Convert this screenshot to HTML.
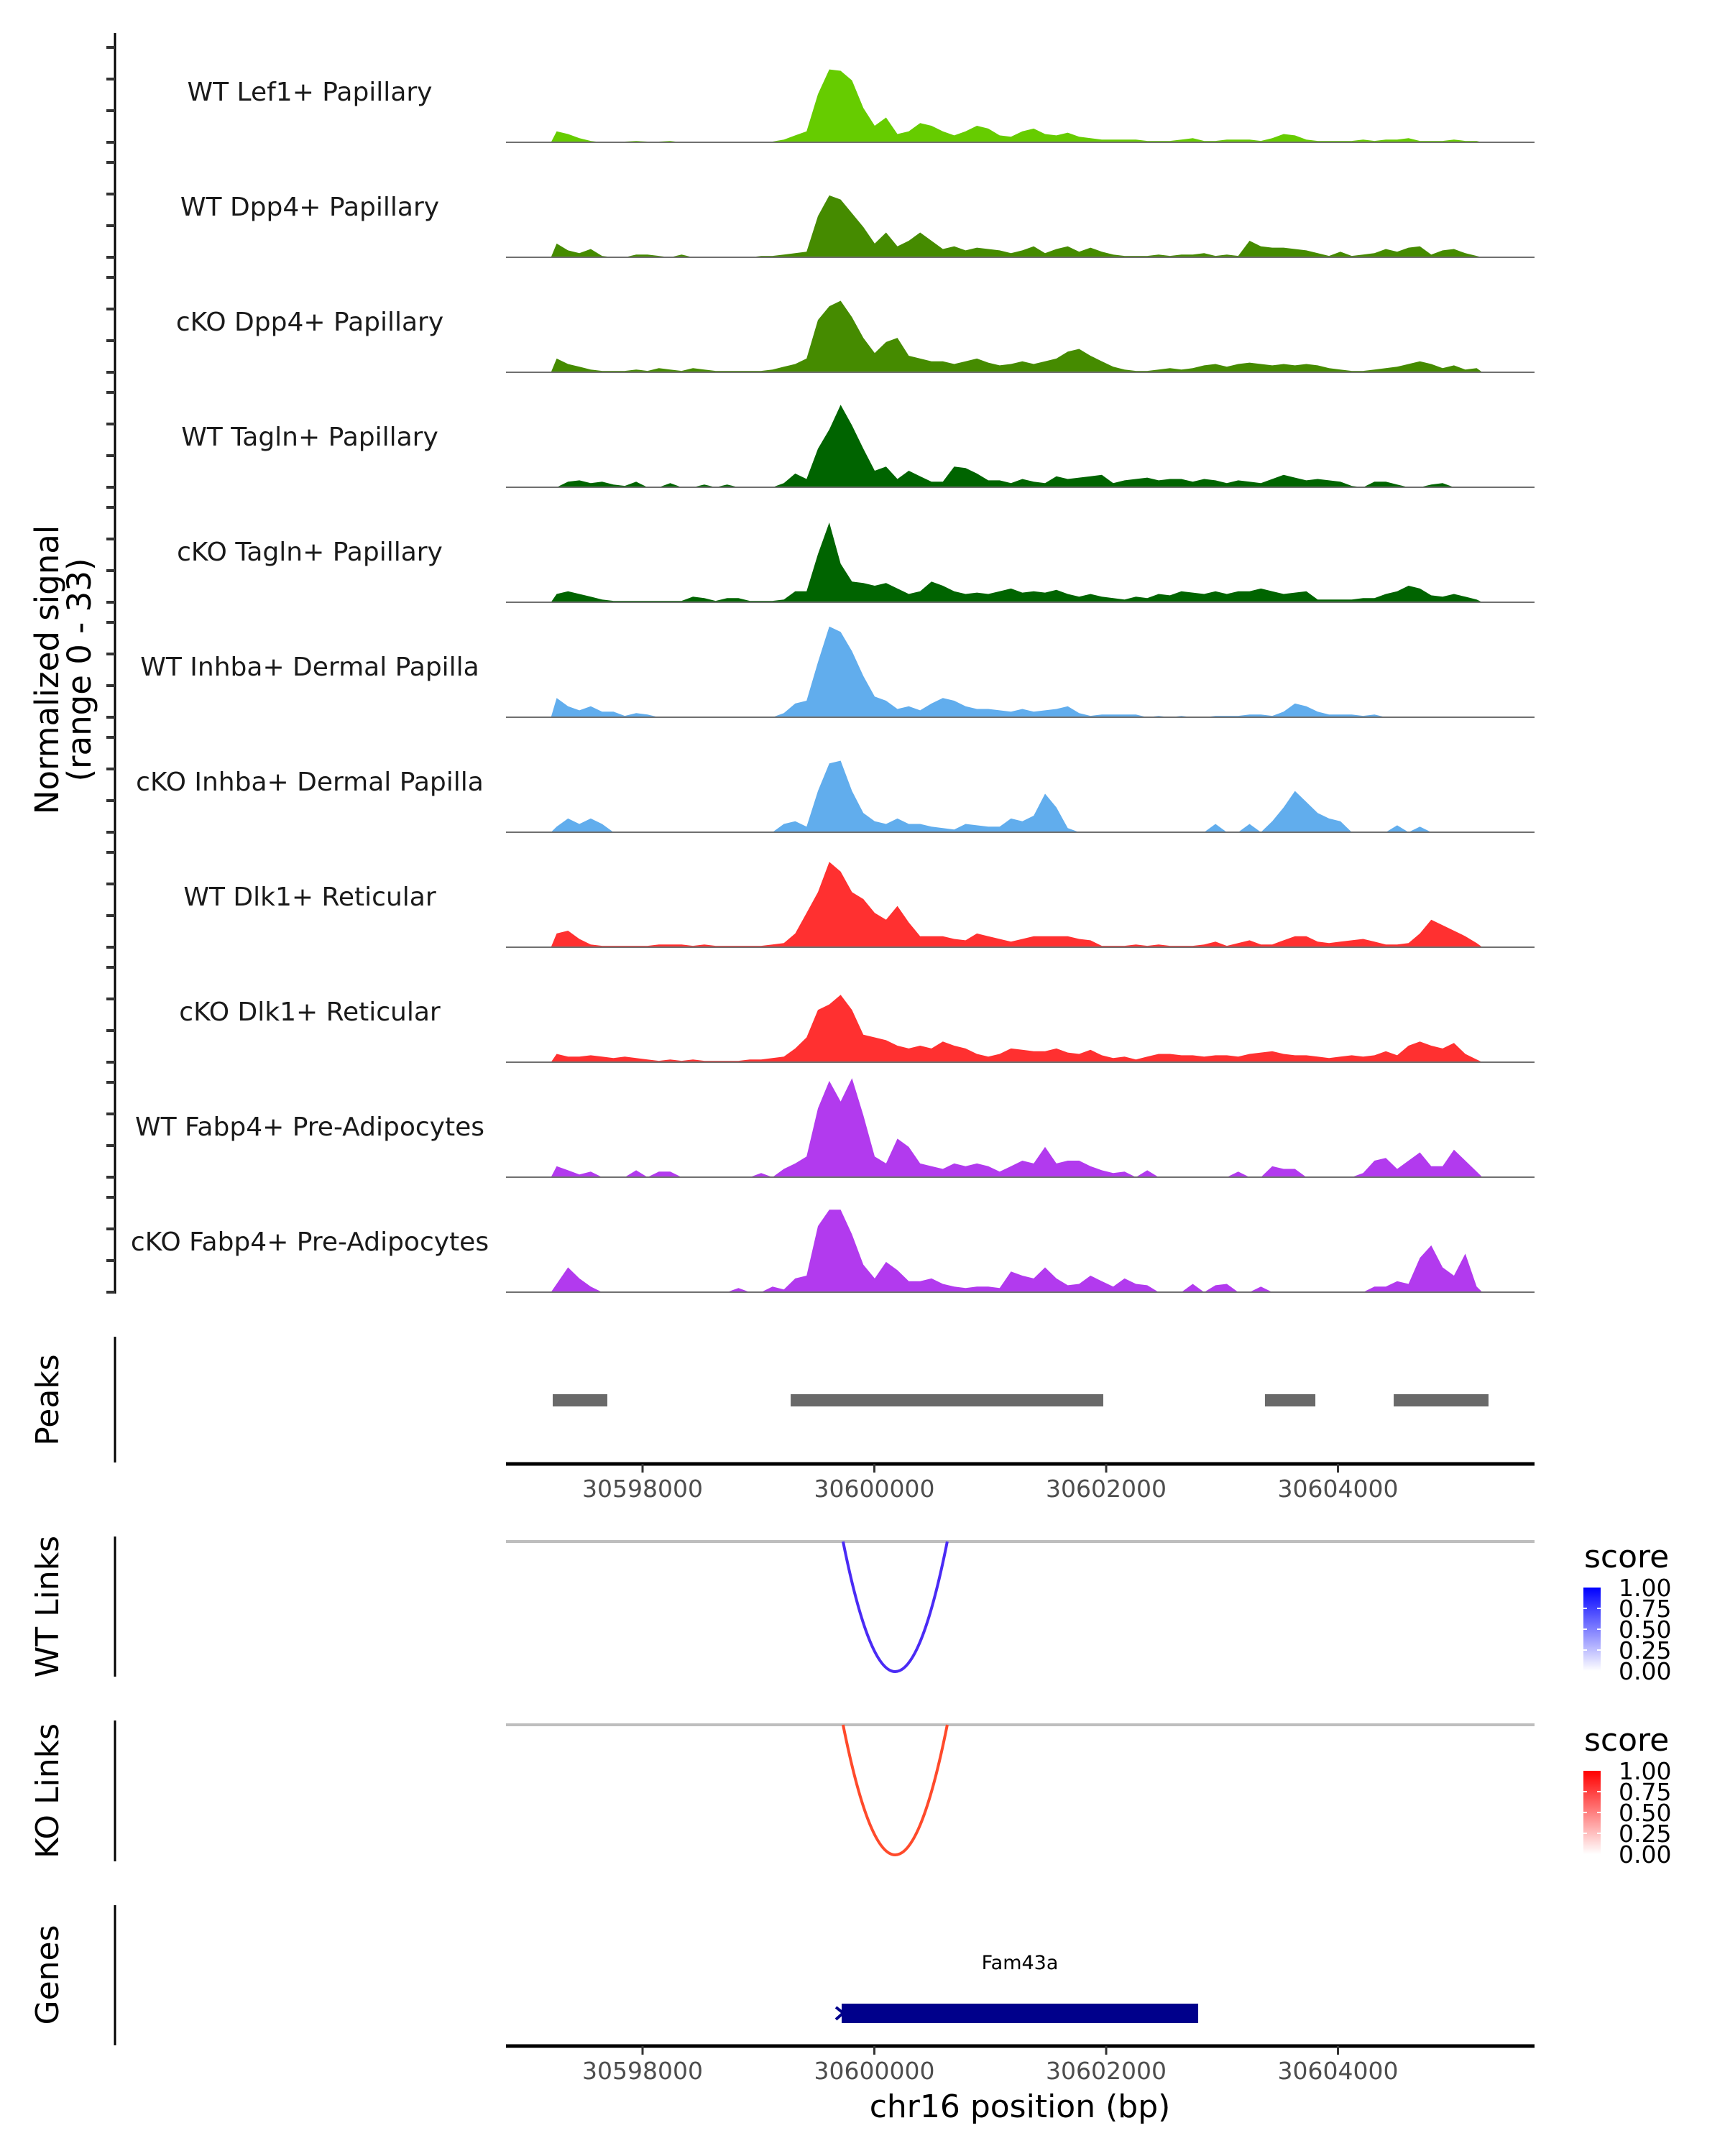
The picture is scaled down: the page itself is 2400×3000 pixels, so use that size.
<!DOCTYPE html>
<html><head><meta charset="utf-8"><style>
html,body{margin:0;padding:0;background:#fff;}
svg{display:block;font-family:"DejaVu Sans","Liberation Sans",sans-serif;}
</style></head><body>
<svg id="chart" width="2400" height="3000" viewBox="0 0 2400 3000" xmlns="http://www.w3.org/2000/svg">
<defs>
<linearGradient id="gradBlue" x1="0" y1="1" x2="0" y2="0"><stop offset="0" stop-color="#ffffff"/><stop offset="1" stop-color="#0000ff"/></linearGradient>
<linearGradient id="gradRed" x1="0" y1="1" x2="0" y2="0"><stop offset="0" stop-color="#ffffff"/><stop offset="1" stop-color="#ff0000"/></linearGradient>
</defs>
<g id="tracks"></g>
<g id="yaxis"></g>
<text transform="translate(81,932) rotate(-90)" text-anchor="middle" font-size="45" fill="#000">Normalized signal</text>
<text transform="translate(126,932) rotate(-90)" text-anchor="middle" font-size="45" fill="#000">(range 0 - 33)</text>
<g id="peaks"></g>
<g id="links"></g>
<g id="genes"></g>
</svg>
<script>
const categories = ["WT Lef1+ Papillary","WT Dpp4+ Papillary","cKO Dpp4+ Papillary","WT Tagln+ Papillary","cKO Tagln+ Papillary","WT Inhba+ Dermal Papilla","cKO Inhba+ Dermal Papilla","WT Dlk1+ Reticular","cKO Dlk1+ Reticular","WT Fabp4+ Pre-Adipocytes","cKO Fabp4+ Pre-Adipocytes"];
const trackColors = ["#66cc00","#458b00","#458b00","#006400","#006400","#61aded","#61aded","#ff3030","#ff3030","#b23aee","#b23aee"];
const binStart = 30597210;
const binSize = 98;
const sLef1WT = [8,6,3,1,0,0.5,0.5,1,0.5,0.5,1,0,0.5,0.5,0.5,0,0.5,0.5,0.5,0.5,2,5,8,35,53,52,45,25,12,18,6,8,14,12,8,5,8,12,10,5,4,8,10,6,5,7,4,3,2,2,2,2,1,1,1,2,3,1,1,2,2,2,1,3,6,5,2,1,1,1,1,2,1,2,2,3,1,1,1,2,1,1];
const sDpp4WT = [10,5,3,6,1,0,0,2,2,1,0,2,0,0,0,0,0,0,1,1,2,3,4,30,45,42,32,22,10,18,8,12,18,12,6,8,5,7,6,5,3,5,8,3,6,8,4,7,4,2,1,1,1,2,1,2,2,3,1,2,1,12,8,7,7,6,5,3,1,4,1,2,3,6,4,7,8,2,5,6,3,1];
const sDpp4KO = [10,6,4,2,1,1,1,2,1,3,2,1,3,2,1,1,1,1,1,2,4,6,10,38,48,52,40,25,14,22,25,12,10,8,8,6,8,10,7,5,6,8,6,8,10,15,17,12,8,4,2,1,1,2,3,2,3,5,6,4,6,7,6,5,6,5,6,5,3,2,1,1,2,3,4,6,8,6,3,5,2,3];
const sTaglnWT = [0,4,5,3,4,2,1,4,0,0,3,0,0,2,0,2,0,0,0,0,3,10,6,28,42,60,45,28,12,15,6,12,8,4,4,15,14,10,5,5,3,6,4,3,8,6,7,8,9,3,5,6,7,5,6,6,4,6,5,3,5,4,3,6,9,7,5,6,5,4,1,0,4,4,2,0,0,2,3,0,0,0];
const sTaglnKO = [6,8,6,4,2,1,1,1,1,1,1,1,4,3,1,3,3,1,1,1,2,8,8,35,58,28,15,14,12,14,10,6,8,15,12,8,6,7,6,8,10,7,8,7,9,6,4,6,4,3,2,4,3,6,5,8,7,6,8,6,8,8,10,8,6,7,8,2,2,2,2,3,3,6,8,12,10,5,4,6,4,2];
const sInhbaWT = [14,8,5,8,4,4,1,3,2,0,0,0,0,0,0,0,0,0,0,0,3,10,12,40,66,62,48,30,15,12,6,8,5,10,14,12,8,6,6,5,4,6,4,5,6,8,3,1,2,2,2,2,0,1,0,1,0,0,1,1,1,2,2,1,4,10,8,4,2,2,2,1,2,0,0,0,0,0,0,0,0,0];
const sInhbaKO = [4,10,6,10,6,0,0,0,0,0,0,0,0,0,0,0,0,0,0,0,6,8,4,30,50,52,30,14,8,6,10,6,6,4,3,2,6,5,4,4,10,8,12,28,18,3,0,0,0,0,0,0,0,0,0,0,0,0,6,0,0,6,0,8,18,30,22,14,10,8,0,0,0,0,5,0,4,0,0,0,0,0];
const sDlk1WT = [10,12,6,2,1,1,1,1,1,2,2,2,1,2,1,1,1,1,1,2,3,10,25,40,62,55,40,35,25,20,30,18,8,8,8,6,5,10,8,6,4,6,8,8,8,8,6,5,1,1,1,2,1,2,1,1,1,2,4,1,3,5,2,2,5,8,8,4,3,4,5,6,4,2,2,3,10,20,16,12,8,3];
const sDlk1KO = [6,4,4,5,4,3,4,3,2,1,2,1,2,1,1,1,1,2,2,3,4,10,18,38,42,49,38,20,18,16,12,10,12,10,15,12,10,6,4,6,10,9,8,8,10,7,6,9,5,3,4,2,4,6,6,5,5,4,5,5,4,6,7,8,6,5,5,4,3,4,5,4,5,8,5,12,15,12,10,14,6,2];
const sFabp4WT = [8,5,2,4,0,0,0,5,0,4,4,0,0,0,0,0,0,0,3,0,6,10,15,50,70,55,72,45,15,10,28,22,10,8,6,10,8,10,8,4,8,12,10,22,10,12,12,8,5,3,4,0,5,0,0,0,0,0,0,0,4,0,0,8,6,6,0,0,0,0,0,3,12,14,6,12,18,8,8,20,12,4];
const sFabp4KO = [6,18,10,4,0,0,0,0,0,0,0,0,0,0,0,0,3,0,0,4,2,10,12,48,60,60,42,20,10,22,16,8,8,10,6,4,3,4,4,3,15,12,10,18,10,5,6,12,8,4,10,6,5,0,0,0,6,0,5,6,0,0,4,0,0,0,0,0,0,0,0,0,4,4,8,6,25,34,18,12,28,4];
const seriesValues = [sLef1WT,sDpp4WT,sDpp4KO,sTaglnWT,sTaglnKO,sInhbaWT,sInhbaKO,sDlk1WT,sDlk1KO,sFabp4WT,sFabp4KO];
const xTicks = [30598000,30600000,30602000,30604000];
const xTickLabels = ["30598000","30600000","30602000","30604000"];
const peakStarts = [30597225,30599278,30603370,30604481];
const peakEnds = [30597696,30601975,30603805,30605299];
const wtLinkStarts = [30599730]; const wtLinkEnds = [30600629]; const wtLinkScores = [0.85];
const koLinkStarts = [30599730]; const koLinkEnds = [30600629]; const koLinkScores = [0.8];
const geneNames = ["Fam43a"]; const geneStarts = [30599718]; const geneEnds = [30602794];
const legendTicks = ["1.00","0.75","0.50","0.25","0.00"];

const NS="http://www.w3.org/2000/svg";
function xS(bp){return 894+(bp-30598000)*0.16125;}
function yS(v){return v*1.914;}
const X0=704, X1=2135;
function mk(tag,attrs,parent){const e=document.createElementNS(NS,tag);for(const k in attrs)e.setAttribute(k,attrs[k]);parent.appendChild(e);return e;}

const tracks=document.getElementById('tracks');
const yaxis=document.getElementById('yaxis');
let ya=mk('line',{x1:160,y1:46,x2:160,y2:1800,stroke:'#000','stroke-width':3},yaxis);


categories.forEach((name,i)=>{
  const base=198+160*i;
  const g=mk('g',{},tracks);
  
  
  const vals=seriesValues[i];
  let d='M'+xS(binStart).toFixed(1)+','+base;
  vals.forEach((v,j)=>{const xm=xS(binStart+(j+0.5)*binSize);d+=' L'+xm.toFixed(1)+','+(base-yS(v)).toFixed(1);});
  d+=' L'+xS(binStart+vals.length*binSize).toFixed(1)+','+base+' Z';
  const p=mk('path',{d:d,fill:trackColors[i]},g);
  
  
  const bl=mk('line',{x1:X0,y1:base,x2:X1,y2:base,stroke:'#707070','stroke-width':2},g);
  
  
  const t=mk('text',{x:431,y:base-58,'text-anchor':'middle','font-size':36,fill:'#1a1a1a'},g);
  t.textContent=name;
  
  
  [0,44,88,132].forEach(o=>{const tk=mk('line',{x1:148,y1:base-o,x2:160,y2:base-o,stroke:'#333','stroke-width':4},yaxis);
    
    });
});

function sideTitle(txt,cy,y1,y2,parent,nm){
  const t=mk('text',{transform:'translate(81,'+cy+') rotate(-90)','text-anchor':'middle','font-size':44,fill:'#000'},parent);
  t.textContent=txt;
  
  
  const l=mk('line',{x1:160,y1:y1,x2:160,y2:y2,stroke:'#000','stroke-width':3},parent);
  
  
}
function xAxis(y,parent,nm){
  const l=mk('line',{x1:X0,y1:y,x2:X1,y2:y,stroke:'#000','stroke-width':5},parent);
  
  
  xTicks.forEach((b,i)=>{
    const tk=mk('line',{x1:xS(b),y1:y,x2:xS(b),y2:y+12,stroke:'#333','stroke-width':3},parent);
    
    
    const t=mk('text',{x:xS(b),y:y+46,'text-anchor':'middle','font-size':33,fill:'#4d4d4d'},parent);
    t.textContent=xTickLabels[i];
    
    
  });
}
const peaks=document.getElementById('peaks');
sideTitle('Peaks',1948,1860,2035,peaks,'peaks');
peakStarts.forEach((s,i)=>{const r=mk('rect',{x:xS(s),y:1940,width:xS(peakEnds[i])-xS(s),height:17,fill:'#696969'},peaks);
  
  });
xAxis(2037,peaks,'peaks');
const links=document.getElementById('links');
function linkPanel(top,axTop,axBot,title,nm,starts,ends,scores,color,grad){
  sideTitle(title,(axTop+axBot)/2,axTop,axBot,links,nm);
  const gl=mk('line',{x1:X0,y1:top,x2:X1,y2:top,stroke:'#bebebe','stroke-width':4},links);
  
  
  starts.forEach((s,i)=>{const xa=xS(s),xb=xS(ends[i]),depth=181;
    const p=mk('path',{d:'M'+xa+','+top+' Q'+((xa+xb)/2)+','+(top+2*depth)+' '+xb+','+top,fill:'none',stroke:color,'stroke-width':4},links);
    
    });
  const lg=mk('g',{},links);
  
  
  const st=mk('text',{x:2204,y:top+36,'font-size':44,fill:'#000'},lg); st.textContent='score';
  mk('rect',{x:2203,y:top+64,width:24,height:116,fill:'url(#'+grad+')'},lg);
  [1,2,3].forEach(k=>{const yy=top+64+29*k;mk('line',{x1:2203,y1:yy,x2:2208,y2:yy,stroke:'#fff','stroke-width':2},lg);mk('line',{x1:2222,y1:yy,x2:2227,y2:yy,stroke:'#fff','stroke-width':2},lg);});
  legendTicks.forEach((t,k)=>{const tx=mk('text',{x:2252,y:top+76+29*k,'font-size':33,fill:'#000'},lg);tx.textContent=t;});
}
linkPanel(2145,2138,2333,'WT Links','wt-links',wtLinkStarts,wtLinkEnds,wtLinkScores,'#4a2bf5','gradBlue');
linkPanel(2400,2394,2590,'KO Links','ko-links',koLinkStarts,koLinkEnds,koLinkScores,'#ff4a2b','gradRed');
const genes=document.getElementById('genes');
sideTitle('Genes',2748,2651,2846,genes,'genes');
geneNames.forEach((n,i)=>{
  const xa=xS(geneStarts[i]),xb=xS(geneEnds[i]);
  const r=mk('rect',{x:xa,y:2788,width:xb-xa,height:27,fill:'#00008b'},genes);
  
  
  const a=mk('path',{d:'M'+(xa-8)+',2793 L'+(xa+2)+',2801 L'+(xa-8)+',2810',fill:'none',stroke:'#00008b','stroke-width':4},genes);
  
  
  const t=mk('text',{x:(xa+xb)/2,y:2740,'text-anchor':'middle','font-size':27,fill:'#000'},genes);
  t.textContent=n;
  
  
});
xAxis(2847,genes,'genes');
const xt=mk('text',{x:1419,y:2946,'text-anchor':'middle','font-size':44,fill:'#000'},genes);
xt.textContent='chr16 position (bp)';


</script>
</body></html>
